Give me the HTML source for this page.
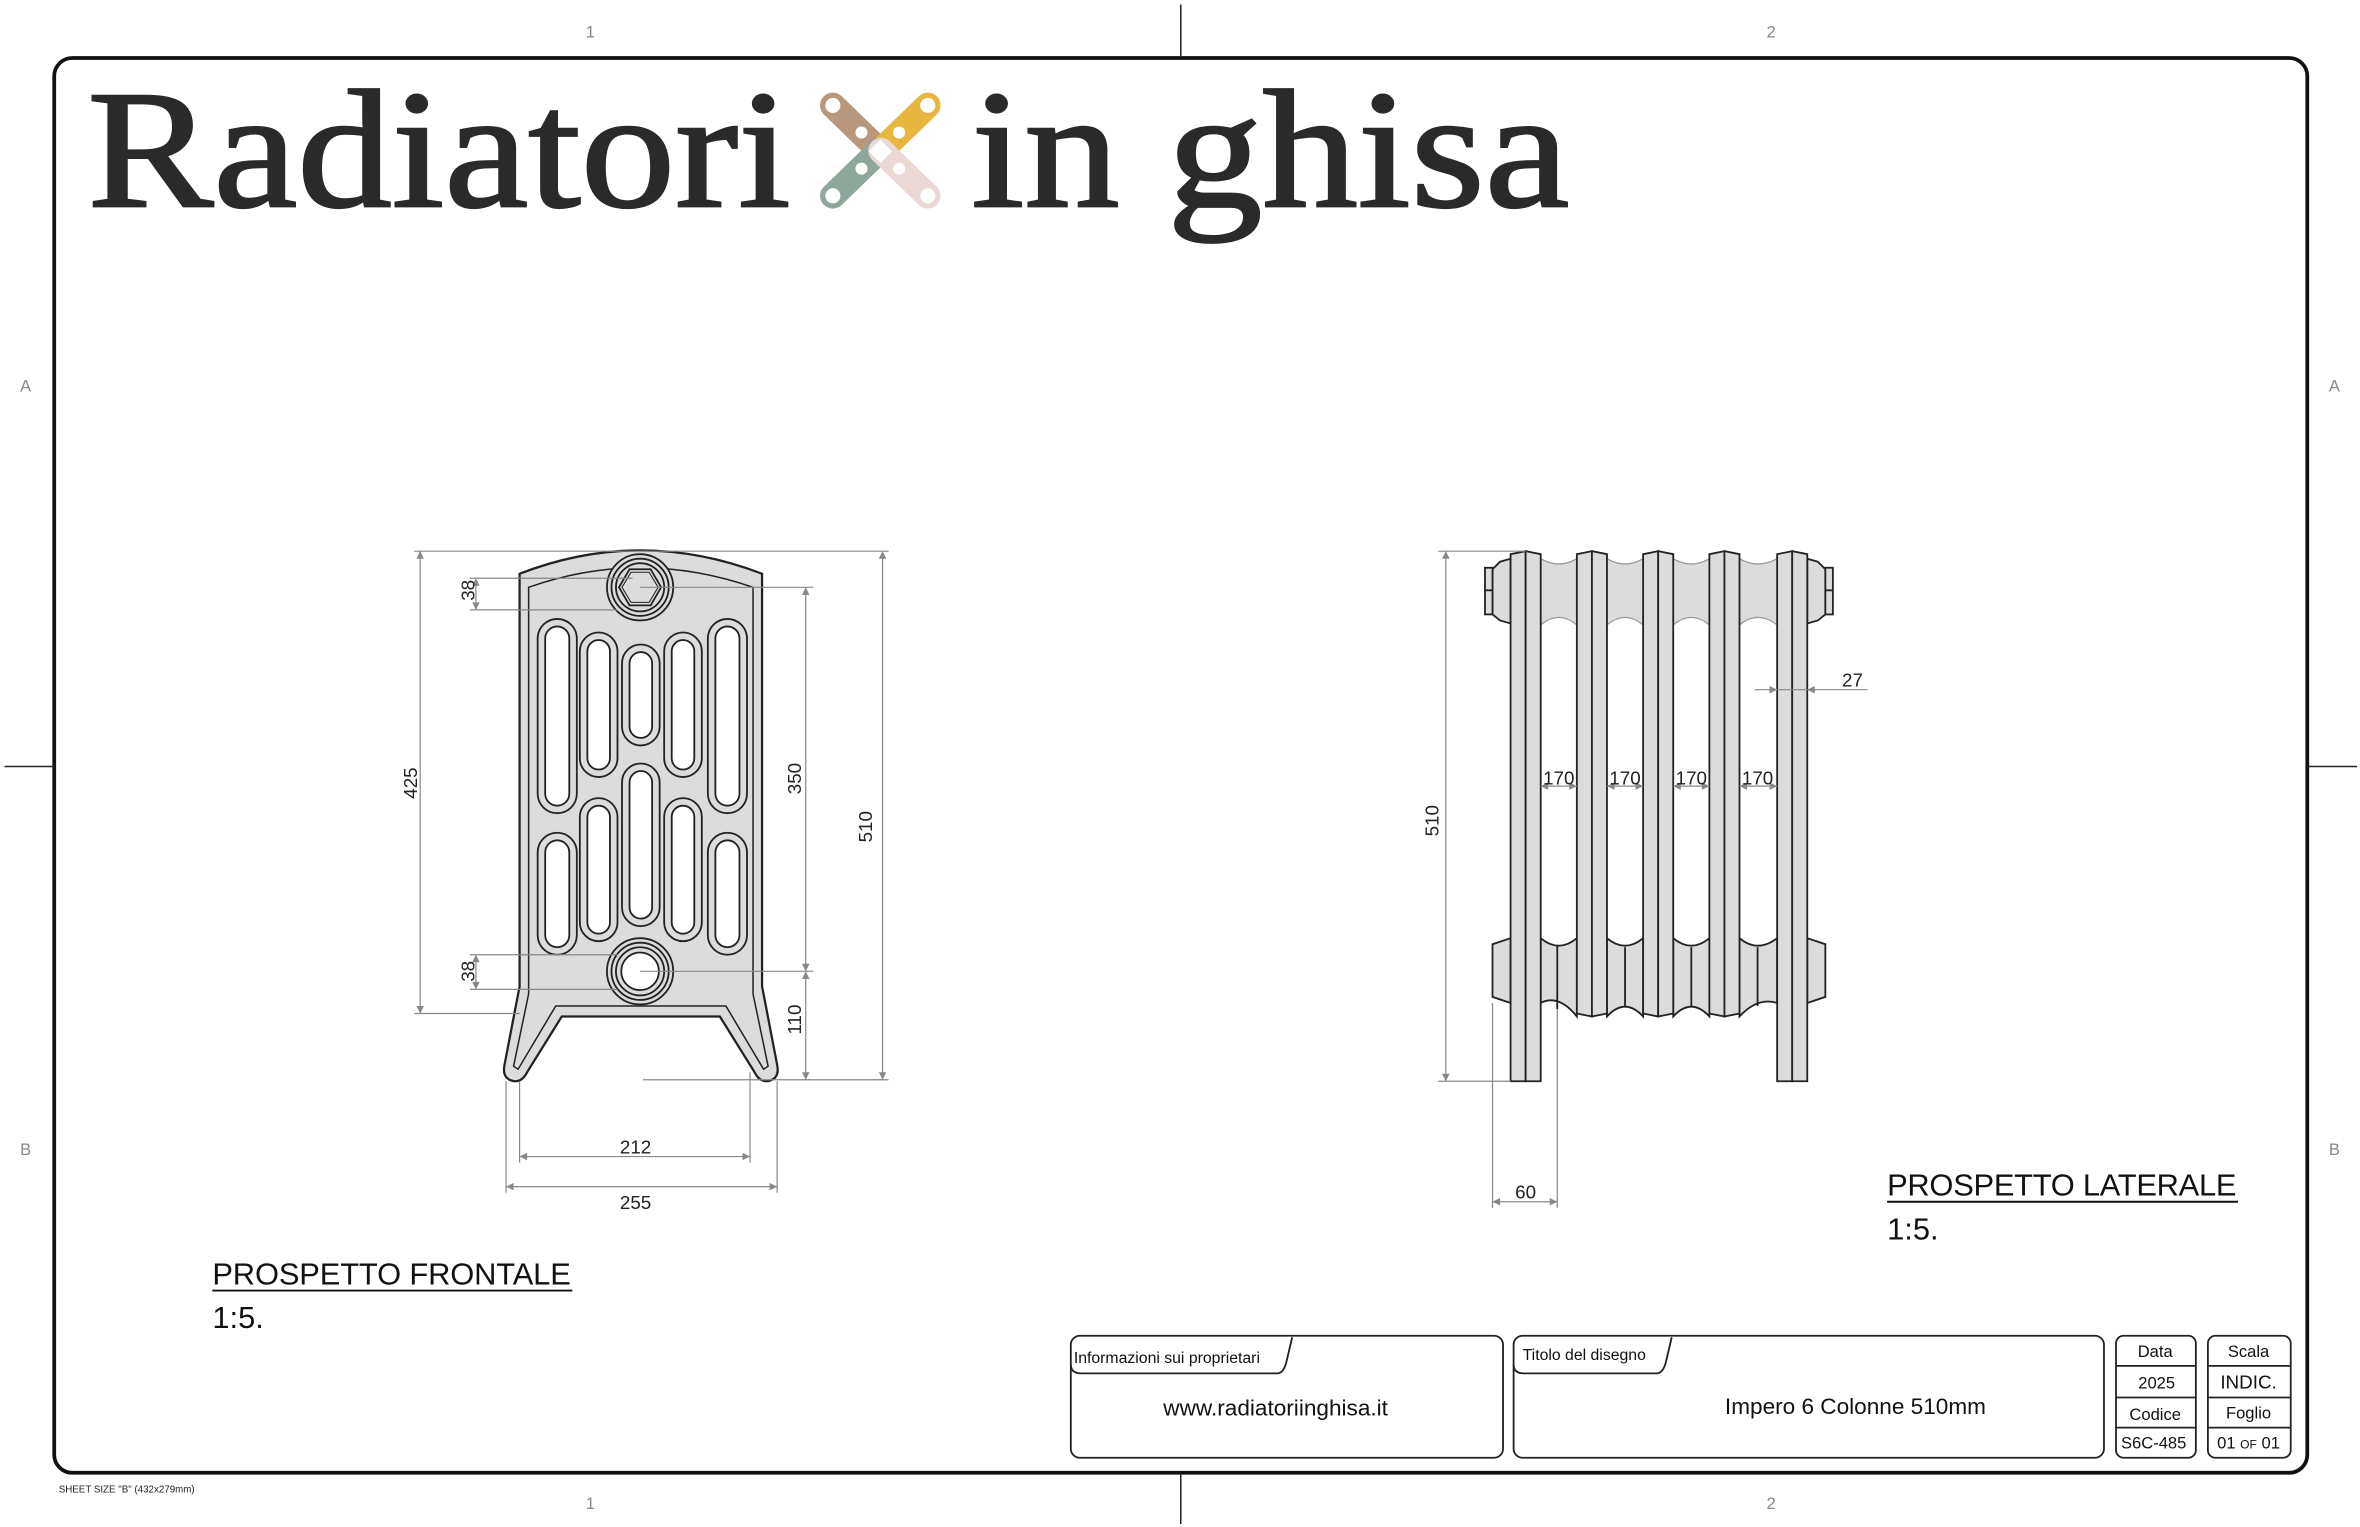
<!DOCTYPE html>
<html><head><meta charset="utf-8"><style>
html,body{margin:0;padding:0;background:#fff;}
svg{display:block;}
text{font-family:"Liberation Sans",sans-serif;}
</style></head><body>
<svg width="2360" height="1527" viewBox="0 0 1567 1014" preserveAspectRatio="none" xmlns="http://www.w3.org/2000/svg">
<defs>
<marker id="a" viewBox="0 0 10 10" refX="10" refY="5" markerWidth="7" markerHeight="5" orient="auto-start-reverse" markerUnits="userSpaceOnUse"><path d="M0,0 L10,5 L0,10 Z" fill="#888"/></marker>
</defs>
<rect width="1567" height="1014" fill="#fff"/>
<rect x="36" y="38.5" width="1496" height="939.5" rx="12" fill="none" stroke="#111" stroke-width="2.5"/>
<g stroke="#222" stroke-width="1">
<line x1="784" y1="3" x2="784" y2="38"/><line x1="784" y1="978" x2="784" y2="1012"/>
<line x1="3" y1="509" x2="36" y2="509"/><line x1="1532" y1="509" x2="1565" y2="509"/>
</g>
<g fill="#888" font-size="11" text-anchor="middle">
<text x="392" y="25">1</text><text x="1176" y="25">2</text>
<text x="392" y="1002">1</text><text x="1176" y="1002">2</text>
<text x="17" y="260">A</text><text x="1550" y="260">A</text>
<text x="17" y="767">B</text><text x="1550" y="767">B</text>
</g>
<text x="39" y="991" font-size="6.5" fill="#222">SHEET SIZE "B" (432x279mm)</text>

<g font-size="112" fill="#2a2a2a" stroke="#2a2a2a" stroke-width="1.5">
<text x="58" y="137" textLength="467" lengthAdjust="spacingAndGlyphs" style="font-family:'Liberation Serif',serif">Radiatori</text>
<text x="645" y="137" textLength="397" lengthAdjust="spacingAndGlyphs" style="font-family:'Liberation Serif',serif">in ghisa</text>
</g>
<g stroke-linecap="round" stroke-width="17">
<line x1="553" y1="70" x2="584" y2="100" stroke="#b8977c"/>
<line x1="616" y1="70" x2="585" y2="100" stroke="#e6b63e"/>
<line x1="553" y1="130" x2="584" y2="100" stroke="#8fa79b"/>
<line x1="616" y1="130" x2="585" y2="100" stroke="#e9d8d3"/>
</g>
<g fill="#fff">
<circle cx="553" cy="70" r="5"/><circle cx="616" cy="70" r="5"/><circle cx="553" cy="130" r="5"/><circle cx="616" cy="130" r="5"/>
<circle cx="572" cy="88" r="4"/><circle cx="597" cy="88" r="4"/><circle cx="572" cy="112" r="4"/><circle cx="597" cy="112" r="4"/>
<rect x="579" y="95" width="11" height="11" transform="rotate(45 584.5 100.5)"/>
</g>

<path d="M345,381 Q425,350 506,381 L506,655 L516,707 Q518,717 509,718 Q504,718 501,712 L478,675 L373,675 L350,712 Q347,718 342,718 Q333,717 335,707 L345,655 Z" fill="#dcdcdc" stroke="#222" stroke-width="1.5"/>
<path d="M351,390 Q425,364 500,390 L500,660 L510,708 L507,710 L482,668 L369,668 L344,710 L341,708 L351,660 Z" fill="none" stroke="#222" stroke-width="1"/>
<g stroke="#222" stroke-width="1.2">
<g fill="#dcdcdc">
<rect x="357" y="411" width="26" height="129" rx="13"/>
<rect x="385" y="420" width="25" height="96" rx="12.5"/>
<rect x="413" y="428" width="25" height="67" rx="12.5"/>
<rect x="441" y="420" width="25" height="96" rx="12.5"/>
<rect x="470" y="411" width="26" height="129" rx="13"/>
<rect x="357" y="553" width="26" height="81" rx="13"/>
<rect x="385" y="530" width="25" height="95" rx="12.5"/>
<rect x="413" y="507" width="25" height="108" rx="12.5"/>
<rect x="441" y="530" width="25" height="95" rx="12.5"/>
<rect x="470" y="553" width="26" height="81" rx="13"/>
</g>
<g fill="#fff">
<rect x="362" y="416" width="16" height="119" rx="8"/>
<rect x="390" y="425" width="15" height="86" rx="7.5"/>
<rect x="418" y="433" width="15" height="57" rx="7.5"/>
<rect x="446" y="425" width="15" height="86" rx="7.5"/>
<rect x="475" y="416" width="16" height="119" rx="8"/>
<rect x="362" y="558" width="16" height="71" rx="8"/>
<rect x="390" y="535" width="15" height="85" rx="7.5"/>
<rect x="418" y="512" width="15" height="98" rx="7.5"/>
<rect x="446" y="535" width="15" height="85" rx="7.5"/>
<rect x="475" y="558" width="16" height="71" rx="8"/>
</g>
<circle cx="425" cy="390" r="22" fill="#dcdcdc"/><circle cx="425" cy="390" r="19" fill="none"/><circle cx="425" cy="390" r="16" fill="none"/>
<polygon points="439,390 432,378 418,378 411,390 418,402 432,402" fill="#dcdcdc"/>
<polygon points="437,390 431,380 419,380 413,390 419,400 431,400" fill="none" stroke-width="0.7"/>
<circle cx="425" cy="645" r="22" fill="#dcdcdc"/><circle cx="425" cy="645" r="19" fill="none"/><circle cx="425" cy="645" r="16" fill="none"/><circle cx="425" cy="645" r="12.5" fill="#fff"/>
</g>
<g stroke="#888" stroke-width="0.8" fill="none">
<line x1="275" y1="366" x2="590" y2="366"/>
<line x1="275" y1="673" x2="345" y2="673"/>
<line x1="279" y1="366" x2="279" y2="673" marker-start="url(#a)" marker-end="url(#a)"/>
<line x1="312" y1="384" x2="420" y2="384"/><line x1="312" y1="405" x2="410" y2="405"/>
<line x1="316" y1="384" x2="316" y2="405" marker-start="url(#a)" marker-end="url(#a)"/>
<line x1="312" y1="634" x2="410" y2="634"/><line x1="312" y1="657" x2="410" y2="657"/>
<line x1="316" y1="634" x2="316" y2="657" marker-start="url(#a)" marker-end="url(#a)"/>
<line x1="425" y1="390" x2="540" y2="390"/><line x1="425" y1="645" x2="540" y2="645"/>
<line x1="535" y1="390" x2="535" y2="645" marker-start="url(#a)" marker-end="url(#a)"/>
<line x1="535" y1="645" x2="535" y2="717" marker-start="url(#a)" marker-end="url(#a)"/>
<line x1="427" y1="717" x2="590" y2="717"/>
<line x1="586" y1="366" x2="586" y2="717" marker-start="url(#a)" marker-end="url(#a)"/>
<line x1="345" y1="718" x2="345" y2="772"/><line x1="498" y1="712" x2="498" y2="772"/>
<line x1="345" y1="768" x2="498" y2="768" marker-start="url(#a)" marker-end="url(#a)"/>
<line x1="336" y1="718" x2="336" y2="792"/><line x1="516" y1="718" x2="516" y2="792"/>
<line x1="336" y1="788" x2="516" y2="788" marker-start="url(#a)" marker-end="url(#a)"/>
</g>
<g font-size="12.5" fill="#222" text-anchor="middle">
<text transform="translate(277,520) rotate(-90)">425</text>
<text transform="translate(315,392) rotate(-90)">38</text>
<text transform="translate(315,645) rotate(-90)">38</text>
<text transform="translate(532,517) rotate(-90)">350</text>
<text transform="translate(532,677) rotate(-90)">110</text>
<text transform="translate(579,549) rotate(-90)">510</text>
<text x="422" y="766">212</text>
<text x="422" y="803">255</text>
</g>
<g font-size="20.5" fill="#111">
<text x="141" y="853" textLength="238">PROSPETTO FRONTALE</text>
<line x1="141" y1="857" x2="380" y2="857" stroke="#111" stroke-width="1.3"/>
<text x="141" y="882">1:5.</text>
<text x="1253" y="794" textLength="232">PROSPETTO LATERALE</text>
<line x1="1253" y1="798" x2="1486" y2="798" stroke="#111" stroke-width="1.3"/>
<text x="1253" y="823">1:5.</text>
</g>

<g stroke="#222" stroke-width="1.2" fill="#dcdcdc">
<path d="M1023,371 Q1035,378 1047,371 L1067,371 Q1079,378 1091,371 L1111,371 Q1123,378 1135,371 L1155,371 Q1167,378 1180,371 L1180,415 Q1167,405 1155,415 L1135,415 Q1123,405 1111,415 L1091,415 Q1079,405 1067,415 L1047,415 Q1035,405 1023,415 Z" stroke="none"/>
<path d="M1023,371 Q1035,378 1047,371 M1067,371 Q1079,378 1091,371 M1111,371 Q1123,378 1135,371 M1155,371 Q1167,378 1180,371 M1023,415 Q1035,405 1047,415 M1067,415 Q1079,405 1091,415 M1111,415 Q1123,405 1135,415 M1155,415 Q1167,405 1180,415" fill="none" stroke-width="0.8" stroke="#999"/>
<path d="M1003,371 L996,373 L991,378 L991,408 L996,412 L1003,414 Z"/>
<path d="M1200,371 L1207,373 L1212,378 L1212,408 L1207,412 L1200,414 Z"/>
<rect x="986" y="377" width="5" height="31"/><line x1="986" y1="392" x2="991" y2="392"/>
<rect x="1212" y="377" width="5" height="31"/><line x1="1212" y1="392" x2="1217" y2="392"/>
<path d="M1003,623 L991,627 L991,662 L1003,666 Z"/>
<path d="M1200,623 L1212,627 L1212,662 L1200,666 Z"/>
<path d="M1023,623 Q1035,633 1047,623 L1047,675 Q1035,660 1023,666 Z"/>
<path d="M1067,623 Q1079,633 1091,623 L1091,675 Q1079,662 1067,675 Z"/>
<path d="M1111,623 Q1123,633 1135,623 L1135,675 Q1123,662 1111,675 Z"/>
<path d="M1155,623 Q1167,633 1180,623 L1180,666 Q1167,662 1155,675 Z"/>
<line x1="1034" y1="628" x2="1034" y2="670"/><line x1="1079" y1="629" x2="1079" y2="668"/><line x1="1123" y1="629" x2="1123" y2="668"/><line x1="1167" y1="629" x2="1167" y2="668"/>
<path d="M1003,368 L1013,366 L1013,718 L1003,718 Z"/><path d="M1013,366 L1023,368 L1023,718 L1013,718 Z"/>
<path d="M1047,368 L1057,366 L1057,675 L1047,673 Z"/><path d="M1057,366 L1067,368 L1067,673 L1057,675 Z"/>
<path d="M1091,368 L1101,366 L1101,675 L1091,673 Z"/><path d="M1101,366 L1111,368 L1111,673 L1101,675 Z"/>
<path d="M1135,368 L1145,366 L1145,675 L1135,673 Z"/><path d="M1145,366 L1155,368 L1155,673 L1145,675 Z"/>
<path d="M1180,368 L1190,366 L1190,718 L1180,718 Z"/><path d="M1190,366 L1200,368 L1200,718 L1190,718 Z"/>
</g>
<g stroke="#888" stroke-width="0.8" fill="none">
<line x1="955" y1="366" x2="1013" y2="366"/><line x1="955" y1="718" x2="1003" y2="718"/>
<line x1="960" y1="366" x2="960" y2="718" marker-start="url(#a)" marker-end="url(#a)"/>
<line x1="991" y1="666" x2="991" y2="802"/><line x1="1034" y1="670" x2="1034" y2="802"/>
<line x1="991" y1="798" x2="1034" y2="798" marker-start="url(#a)" marker-end="url(#a)"/>
<line x1="1165" y1="458" x2="1180" y2="458" marker-end="url(#a)"/>
<line x1="1240" y1="458" x2="1200" y2="458" marker-end="url(#a)"/>
<line x1="1180" y1="458" x2="1200" y2="458"/>
<line x1="1023" y1="522" x2="1047" y2="522" marker-start="url(#a)" marker-end="url(#a)"/>
<line x1="1067" y1="522" x2="1091" y2="522" marker-start="url(#a)" marker-end="url(#a)"/>
<line x1="1111" y1="522" x2="1135" y2="522" marker-start="url(#a)" marker-end="url(#a)"/>
<line x1="1155" y1="522" x2="1180" y2="522" marker-start="url(#a)" marker-end="url(#a)"/>
</g>
<g font-size="12.5" fill="#222" text-anchor="middle">
<text transform="translate(955,545) rotate(-90)">510</text>
<text x="1013" y="796">60</text>
<text x="1230" y="456">27</text>
<text x="1035" y="521">170</text><text x="1079" y="521">170</text><text x="1123" y="521">170</text><text x="1167" y="521">170</text>
</g>

<g fill="none" stroke="#222" stroke-width="1.2">
<rect x="711" y="887" width="287" height="81" rx="6"/>
<path d="M711,906 Q711,912 718,912 L848,912 Q852,912 854,905 L858,888"/>
<rect x="1005" y="887" width="392" height="81" rx="6"/>
<path d="M1005,906 Q1005,912 1012,912 L1100,912 Q1104,912 1106,905 L1110,888"/>
<rect x="1405" y="887" width="53" height="81" rx="5"/>
<rect x="1466" y="887" width="55" height="81" rx="5"/>
<line x1="1405" y1="907" x2="1458" y2="907"/><line x1="1405" y1="928" x2="1458" y2="928"/><line x1="1405" y1="948" x2="1458" y2="948"/>
<line x1="1466" y1="907" x2="1521" y2="907"/><line x1="1466" y1="928" x2="1521" y2="928"/><line x1="1466" y1="948" x2="1521" y2="948"/>
</g>
<g fill="#111" font-size="10.5">
<text x="713" y="905">Informazioni sui proprietari</text>
<text x="1011" y="903">Titolo del disegno</text>
</g>
<g fill="#111" font-size="15" text-anchor="middle">
<text x="847" y="940">www.radiatoriinghisa.it</text>
<text x="1232" y="939">Impero 6 Colonne 510mm</text>
</g>
<g fill="#111" font-size="11" text-anchor="middle">
<text x="1431" y="901">Data</text><text x="1432" y="922">2025</text><text x="1431" y="943">Codice</text><text x="1430" y="962">S6C-485</text>
<text x="1493" y="901">Scala</text><text x="1493" y="922" font-size="12.5">INDIC.</text><text x="1493" y="942">Foglio</text>
<text x="1493" y="962">01 <tspan font-size="8">OF</tspan> 01</text>
</g>
</svg>
</body></html>
